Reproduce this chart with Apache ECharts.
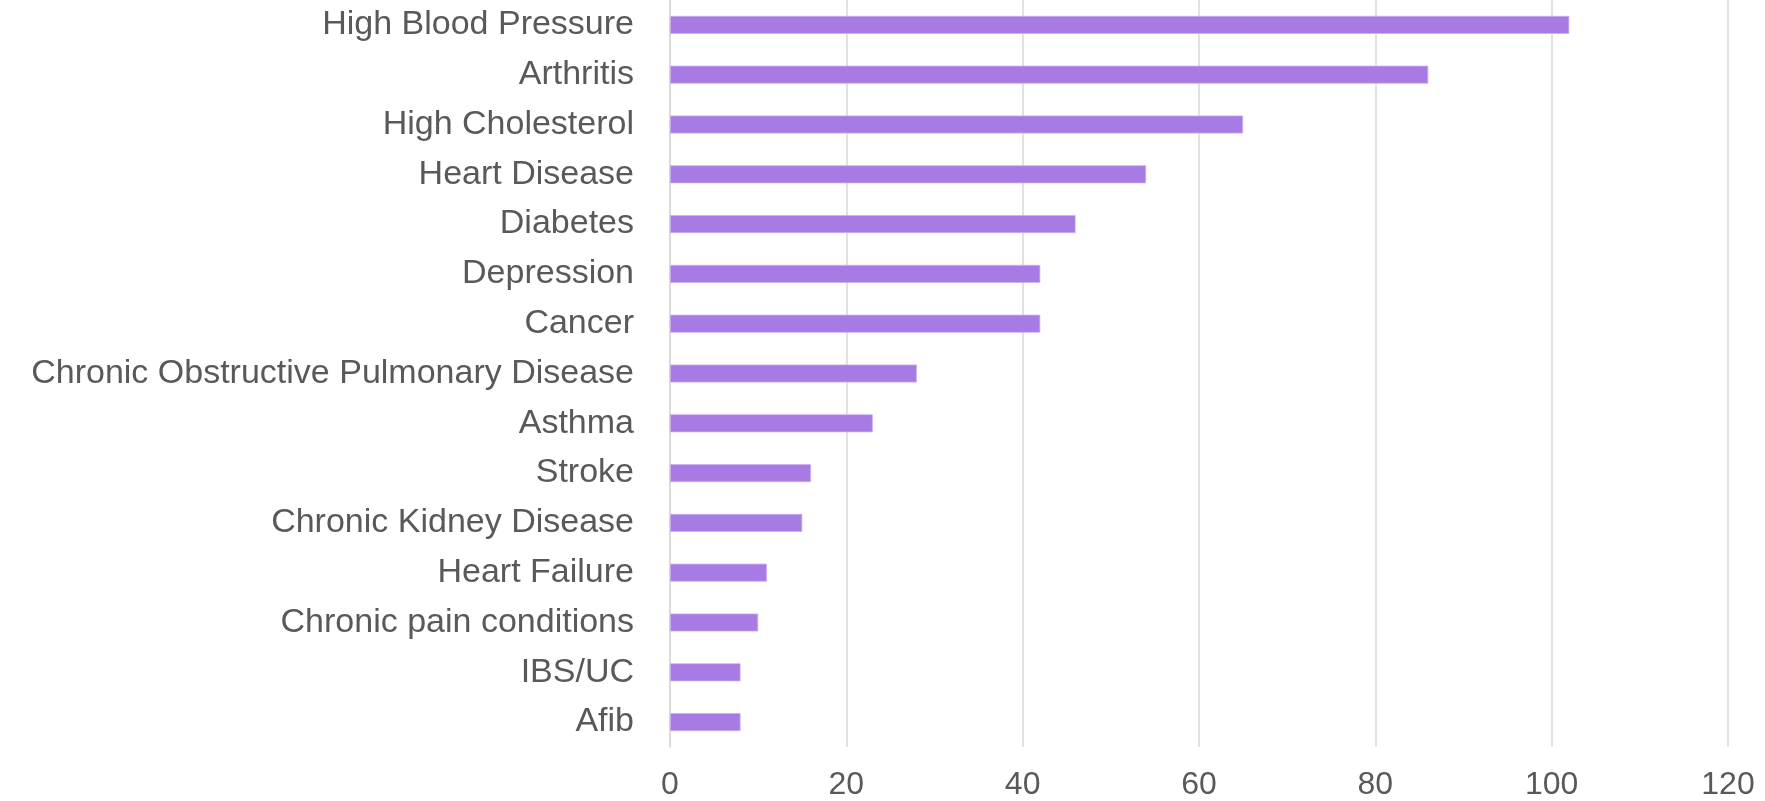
<!DOCTYPE html>
<html>
<head>
<meta charset="utf-8">
<script src="https://cdn.jsdelivr.net/npm/echarts@6/dist/echarts.min.js"></script>
<style>
html,body{margin:0;padding:0;background:#fff;}
#chart{width:1765px;height:801px;}
</style>
</head>
<body>
<div id="chart"></div>
<script>
const categories = [
  "High Blood Pressure", "Arthritis", "High Cholesterol", "Heart Disease", "Diabetes",
  "Depression", "Cancer", "Chronic Obstructive Pulmonary Disease", "Asthma", "Stroke",
  "Chronic Kidney Disease", "Heart Failure", "Chronic pain conditions", "IBS/UC", "Afib"
];
const values = [102, 86, 65, 54, 46, 42, 42, 28, 23, 16, 15, 11, 10, 8, 8];
const xTicks = [0, 20, 40, 60, 80, 100, 120];

const chart = echarts.init(document.getElementById('chart'), null, {renderer: 'canvas'});
chart.setOption({
  animation: false,
  backgroundColor: '#ffffff',
  grid: {left: 670, right: 37, top: -3, bottom: 54, containLabel: false},
  xAxis: {
    type: 'value',
    min: xTicks[0],
    max: xTicks[xTicks.length - 1],
    interval: xTicks[1] - xTicks[0],
    axisLine: {show: false},
    axisTick: {show: false},
    splitLine: {show: true, lineStyle: {color: '#D9D9D9', width: 1.5}},
    axisLabel: {color: '#595959', fontSize: 32, fontFamily: 'Liberation Sans', margin: 22}
  },
  yAxis: {
    type: 'category',
    data: categories,
    inverse: true,
    axisLine: {show: true, lineStyle: {color: '#D9D9D9', width: 1.5}},
    axisTick: {show: false},
    axisLabel: {color: '#595959', fontSize: 34, fontFamily: 'Liberation Sans', margin: 36}
  },
  series: [{
    type: 'bar',
    data: values,
    barWidth: 18,
    itemStyle: {color: '#A77BE3', borderColor: '#C9B0F0', borderWidth: 0.8}
  }]
});
</script>
</body>
</html>
